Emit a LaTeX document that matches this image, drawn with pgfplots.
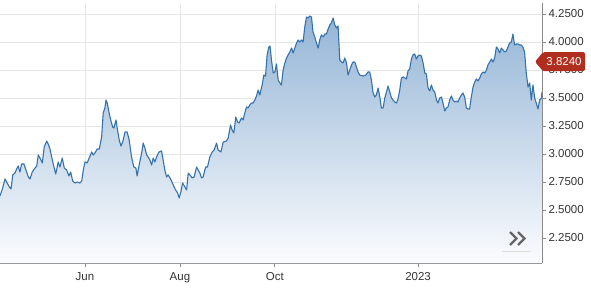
\documentclass[border=0pt]{standalone}
\usepackage{pgfplots}
\pgfplotsset{compat=1.18}
\usepackage{pgfplotstable}
\usepackage{fontspec}
\setmainfont{Liberation Sans}
\definecolor{linec}{HTML}{3572AC}
\definecolor{filltop}{HTML}{94B5D6}
\definecolor{fillbot}{HTML}{FBFCFE}
\definecolor{gridc}{HTML}{E6E6E6}
\definecolor{gridy}{HTML}{D2D2D2}
\definecolor{axisc}{HTML}{8A8A8A}
\definecolor{labc}{HTML}{333333}
\definecolor{redc}{HTML}{B02E1F}
\definecolor{btnc}{HTML}{666666}
\definecolor{btnl}{HTML}{DDDDDD}

\pgfplotstableread{
d v
96.4 2.625
98.1 2.696
99.6 2.777
100.7 2.750
102.4 2.705
103.5 2.688
104.6 2.813
106.0 2.830
107.1 2.866
108.1 2.893
109.2 2.839
110.3 2.911
111.8 2.911
113.1 2.857
114.6 2.795
115.7 2.777
117.1 2.839
118.9 2.875
120.0 2.893
121.0 2.991
122.1 2.964
123.6 2.920
124.8 3.063
126.4 3.116
127.4 3.089
128.5 3.045
129.6 2.973
130.6 2.911
132.2 2.821
133.8 2.929
134.9 2.884
136.4 2.964
137.7 2.875
139.2 2.857
140.7 2.804
141.8 2.839
143.1 2.759
144.6 2.741
146.0 2.750
147.8 2.741
148.9 2.759
149.9 2.857
151.0 2.929
152.4 2.920
153.7 2.964
155.3 3.018
156.3 2.991
157.4 3.009
158.9 3.045
160.2 3.045
161.7 3.152
162.7 3.366
163.8 3.411
164.5 3.482
165.3 3.455
166.4 3.375
167.5 3.304
168.8 3.241
169.6 3.232
170.9 3.304
171.7 3.232
173.0 3.125
174.1 3.071
175.2 3.107
176.7 3.196
178.1 3.196
179.4 3.125
180.9 2.973
182.4 2.884
183.7 2.875
184.5 2.804
185.8 2.902
187.4 3.009
188.4 3.098
189.5 3.054
190.6 2.991
191.6 2.973
192.7 2.946
193.8 2.902
194.8 2.964
195.9 2.929
197.0 2.973
198.5 3.018
200.2 3.027
201.2 2.946
202.3 2.857
203.4 2.795
204.4 2.813
206.0 2.777
207.7 2.723
209.2 2.679
210.5 2.652
211.5 2.607
212.6 2.661
213.7 2.741
216.3 2.679
217.3 2.830
218.4 2.813
219.9 2.786
221.1 2.795
222.7 2.884
223.7 2.857
224.8 2.830
225.9 2.786
226.9 2.795
228.5 2.884
229.7 2.884
231.2 2.973
232.7 3.018
234.0 3.036
235.5 3.098
236.5 3.036
238.3 3.018
239.8 3.107
241.9 3.116
243.0 3.143
244.5 3.259
245.5 3.214
246.6 3.188
247.9 3.330
249.0 3.286
250.0 3.277
251.6 3.321
252.6 3.304
253.7 3.366
254.8 3.420
255.8 3.411
256.9 3.438
258.0 3.455
259.0 3.455
260.1 3.482
261.2 3.518
262.2 3.571
263.3 3.527
264.8 3.616
265.9 3.705
267.0 3.696
268.0 3.884
269.1 3.955
269.9 3.964
270.8 3.839
271.9 3.723
273.0 3.732
274.0 3.804
275.1 3.661
276.2 3.634
277.2 3.616
278.3 3.750
279.4 3.813
280.5 3.857
281.5 3.884
282.6 3.911
283.7 3.946
284.7 3.902
285.8 3.946
286.9 3.991
287.9 4.018
289.0 4.000
290.1 4.018
291.1 4.000
292.2 4.134
293.3 4.223
294.3 4.214
295.4 4.232
296.5 4.223
297.5 4.089
298.6 4.045
299.7 3.991
300.8 3.946
301.8 4.018
302.9 4.063
304.0 4.045
305.0 4.071
306.1 4.071
307.2 4.116
308.3 4.152
309.3 4.170
310.4 4.214
311.5 4.152
312.6 4.125
313.6 4.143
314.2 3.973
314.7 3.839
315.8 3.821
316.8 3.813
317.9 3.857
319.0 3.813
320.0 3.705
321.1 3.750
322.2 3.795
323.2 3.821
324.3 3.821
325.4 3.777
326.4 3.732
327.5 3.705
329.6 3.696
331.4 3.705
332.8 3.732
333.9 3.732
335.0 3.661
336.1 3.545
337.2 3.509
338.2 3.527
339.3 3.589
340.4 3.509
341.4 3.411
342.5 3.411
343.6 3.500
344.7 3.554
345.7 3.607
346.8 3.554
347.9 3.500
348.9 3.482
350.0 3.464
351.1 3.455
352.1 3.491
353.2 3.571
354.3 3.679
355.3 3.688
356.4 3.679
357.5 3.670
358.5 3.741
359.6 3.759
360.7 3.848
361.7 3.884
362.8 3.893
363.9 3.848
364.9 3.875
366.0 3.884
367.1 3.875
368.2 3.813
369.3 3.723
370.3 3.714
371.4 3.589
372.5 3.563
373.5 3.616
374.6 3.571
375.7 3.554
376.8 3.482
377.8 3.455
378.9 3.500
380.0 3.509
381.0 3.455
382.1 3.384
383.2 3.411
384.2 3.420
385.3 3.482
386.4 3.518
387.4 3.482
388.5 3.464
389.6 3.473
390.6 3.464
391.7 3.500
392.8 3.527
393.8 3.545
394.9 3.509
396.0 3.411
397.0 3.402
398.1 3.402
399.2 3.509
400.3 3.598
401.4 3.643
402.4 3.670
403.5 3.652
404.6 3.679
405.6 3.714
406.7 3.732
407.8 3.723
408.9 3.750
409.9 3.795
411.0 3.821
412.1 3.848
413.1 3.821
414.2 3.857
415.3 3.955
416.3 3.938
417.4 3.902
418.5 3.946
419.5 3.929
420.6 3.911
421.7 3.920
422.7 3.955
423.8 3.991
424.9 4.000
425.9 4.071
427.0 3.973
428.1 3.982
429.1 3.982
430.2 3.973
431.3 3.973
432.3 3.955
433.4 3.911
434.5 3.723
435.6 3.598
436.7 3.634
437.7 3.482
438.8 3.616
439.9 3.500
440.9 3.455
442.0 3.402
443.1 3.482
444.2 3.500
444.6 3.554
}\yielddata

\begin{document}
\begin{tikzpicture}[x=1pt,y=1pt]
\begin{axis}[
  at={(0,0)}, anchor=south west,
  scale only axis, width=542pt, height=260pt,
  xmin=96.4, xmax=444.6, ymin=2.027, ymax=4.348,
  axis x line*=bottom, axis y line*=right,
  axis line style={axisc, line width=0.8pt},
  xtick={151,212,273}, xticklabels={Jun,Aug,Oct},
  extra x ticks={365}, extra x tick labels={2023},
  extra x tick style={grid style={gridy, line width=0.6pt}},
  ytick={2.25,2.5,2.75,3,3.25,3.5,3.75,4,4.25},
  /pgf/number format/assume math mode=true,
  /pgf/number format/fixed,
  /pgf/number format/fixed zerofill,
  /pgf/number format/precision=4,
  grid=major, major grid style={gridc, line width=0.6pt},
  tick align=outside, major tick length=4pt,
  tick style={axisc, line width=0.8pt},
  ticklabel style={font=\fontsize{11.5}{13}\selectfont, text=labc},
  xticklabel style={yshift=-2pt},
  yticklabel style={xshift=-1pt},
]
\addplot[draw=none, top color=filltop, bottom color=fillbot]
  table[x=d, y=v] {\yielddata} |- (axis cs:96.4,2.027) -- cycle;
\addplot[linec, line width=1.1pt, line join=round] table[x=d, y=v] {\yielddata};
\coordinate (aprpos) at (axis cs:90,2.027);
\coordinate (lastpos) at (axis cs:444.6,3.824);
\end{axis}
% cut-off April label at the left edge
\node[anchor=north, font=\fontsize{11.5}{13}\selectfont, text=labc, yshift=-6pt] at (aprpos) {Apr};
% current value label
\fill[redc, rounded corners=1.5pt] ([xshift=-7pt]lastpos) -- ([xshift=1pt,yshift=9.5pt]lastpos) -- ([xshift=43pt,yshift=9.5pt]lastpos) -- ([xshift=43pt,yshift=-9.5pt]lastpos) -- ([xshift=1pt,yshift=-9.5pt]lastpos) -- cycle;
\node[text=white, font=\fontsize{11.5}{13}\selectfont] at ([xshift=22pt]lastpos) {3.8240};
% navigator button
\draw[btnc, line width=2.2pt] (510,31) -- (516.5,24.5) -- (510,18);
\draw[btnc, line width=2.2pt] (518,31) -- (524.5,24.5) -- (518,18);
\draw[btnl, line width=0.8pt] (502,12) -- (531,12);
\pgfresetboundingbox
\useasboundingbox (0,-26) rectangle (591,263);
\end{tikzpicture}
\end{document}
